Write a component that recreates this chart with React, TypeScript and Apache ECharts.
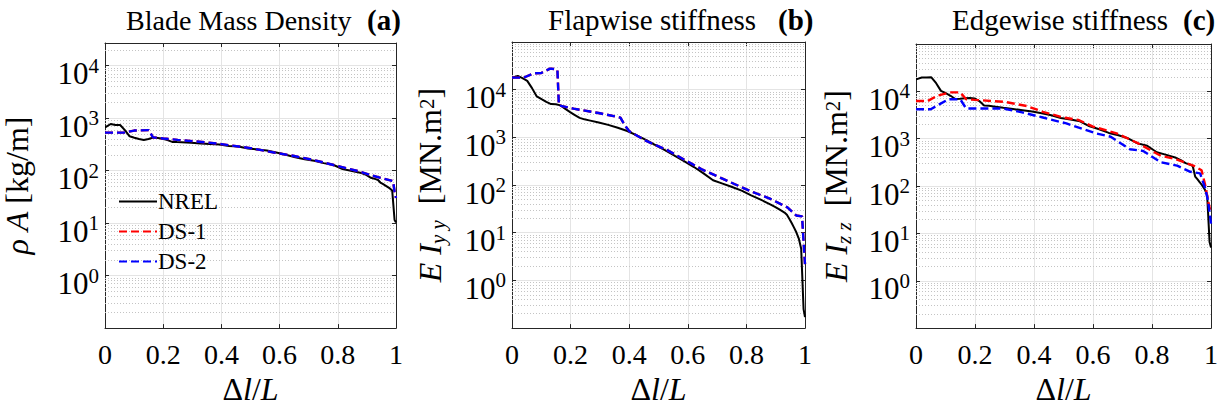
import React, { useEffect, useRef } from "react";
import * as echarts from "echarts";

const FONT = "'Liberation Serif', 'Times New Roman', serif";

// NREL reference blade (span fraction)
const X_NREL = [0, 0.00325, 0.01951, 0.03577, 0.05203, 0.06829, 0.08455, 0.10081, 0.11707, 0.13335, 0.14959, 0.16585, 0.18211, 0.19837, 0.21465, 0.23089, 0.24715, 0.26341, 0.29595, 0.32846, 0.36098, 0.3935, 0.42602, 0.45855, 0.49106, 0.52358, 0.5561, 0.58862, 0.62115, 0.65366, 0.68618, 0.7187, 0.75122, 0.78376, 0.81626, 0.84878, 0.8813, 0.89756, 0.91382, 0.93008, 0.93821, 0.94636, 0.95447, 0.9626, 0.97073, 0.97886, 0.98699, 0.99512, 1.0];
const NREL_MASS = [678.935, 678.935, 773.363, 740.55, 740.55, 592.496, 450.275, 424.054, 400.638, 382.062, 399.655, 426.321, 416.82, 406.186, 381.42, 352.822, 349.477, 346.538, 339.333, 330.004, 321.99, 313.82, 294.734, 287.12, 263.343, 253.207, 241.666, 220.638, 200.293, 179.404, 165.094, 154.411, 138.935, 129.555, 107.264, 98.776, 90.248, 83.001, 72.906, 68.772, 66.264, 59.34, 55.914, 52.484, 49.114, 45.818, 41.669, 11.453, 10.319];
const NREL_FLAP = [18110, 18110, 19425, 17455, 15287, 10782, 7230, 6309, 5528, 4981, 4936, 4691, 3948, 3386, 2933, 2568, 2388, 2271, 2050, 1828, 1589, 1362, 1102, 875.8, 681.3, 534.7, 408.9, 314.5, 238.6, 175.9, 126.0, 107.3, 90.9, 76.3, 61.0, 49.5, 39.4, 34.7, 30.4, 26.5, 23.8, 19.6, 16.0, 12.8, 10.1, 7.55, 4.6, 0.25, 0.17];
const NREL_EDGE = [18113.6, 18113.6, 19558.6, 19497.8, 19788.0, 14858.5, 10220.6, 9144.7, 8063.2, 6884.4, 7009.2, 7167.7, 7271.7, 7081.7, 6244.5, 5048.96, 4948.49, 4808.02, 4501.4, 4244.07, 3995.28, 3750.76, 3447.14, 3139.07, 2734.24, 2554.87, 2334.03, 1828.73, 1584.68, 1323.36, 1183.68, 1020.16, 797.81, 709.61, 518.19, 454.87, 395.12, 353.72, 304.73, 281.42, 261.71, 158.81, 137.88, 118.79, 101.63, 85.07, 64.26, 6.61, 5.01];

// DS-1 / DS-2, panel (a)
const DS_A_X = [0, 0.065, 0.1, 0.15, 0.165, 0.2, 0.25, 0.3, 0.35, 0.4, 0.5, 0.58, 0.65, 0.72, 0.8, 0.87, 0.92, 0.96, 0.99, 0.995, 1.0];
const DS1_A = [530, 530, 580, 590, 430, 410, 385, 365, 345, 320, 268, 222, 190, 158, 122, 98, 80, 70, 63, 40, 30];
const DS2_A = [530, 530, 580, 590, 430, 410, 385, 365, 345, 320, 268, 222, 190, 158, 122, 98, 80, 70, 63, 40, 30];

// panel (b)
const DS_B_X = [0, 0.04, 0.074, 0.1, 0.13, 0.146, 0.155, 0.16, 0.21, 0.3, 0.37, 0.385, 0.4, 0.46, 0.53, 0.6, 0.65, 0.72, 0.81, 0.88, 0.94, 0.97, 0.99, 0.995, 1.0];
const DS1_B = [17900, 17900, 22000, 22400, 27600, 27000, 26000, 4700, 4000, 3200, 2600, 1800, 1350, 830, 540, 310, 210, 135, 76, 52, 34, 23, 22, 6.6, 2.2];
const DS2_B = [17900, 17900, 22000, 22400, 27600, 27000, 26000, 4700, 4000, 3200, 2600, 1800, 1350, 830, 540, 310, 210, 135, 76, 52, 34, 23, 22, 6.6, 2.2];

// panel (c)
const DS1_C_X = [0, 0.04, 0.07, 0.115, 0.15, 0.17, 0.2, 0.3, 0.376, 0.43, 0.5, 0.55, 0.6, 0.68, 0.75, 0.83, 0.88, 0.94, 0.968, 0.98, 0.99, 1.0];
const DS1_C = [6250, 6250, 8000, 9500, 9500, 6800, 6600, 6000, 4900, 3700, 2800, 2500, 1800, 1300, 815, 435, 370, 270, 215, 107, 49, 26];
const DS2_C_X = [0, 0.05, 0.11, 0.15, 0.17, 0.295, 0.36, 0.43, 0.51, 0.61, 0.66, 0.725, 0.77, 0.83, 0.885, 0.93, 0.963, 0.98, 0.99, 1.0];
const DS2_C = [4200, 4200, 6800, 6800, 4350, 4350, 3600, 2800, 2100, 1300, 1100, 600, 550, 318, 270, 200, 185, 91, 49, 16];

const SERIES_NAMES = ["NREL", "DS-1", "DS-2"];
const TITLES = ["Blade Mass Density", "Flapwise stiffness", "Edgewise stiffness"];
const TAGS = ["(a)", "(b)", "(c)"];
const Y_MIN = 0.1;
const Y_MAX = [2.7e4, 1e5, 1e5];
const Y_NAMES = [
  "{i|ρ A}{n| [kg/m]}",
  "{i|E I}{sub|y y}{n|  [MN.m}{sup|2}{n|]}",
  "{i|E I}{sub|z z}{n|  [MN.m}{sup|2}{n|]}",
];

const zip = (xs: number[], ys: number[]) => xs.map((x, i) => [x, ys[i]]);

export default function App() {
  const ref = useRef<HTMLDivElement>(null);
  useEffect(() => {
    document.body.style.margin = "0";
    const chart = echarts.init(ref.current!, undefined, { renderer: "svg" });

    const grids = [
      { left: 103, top: 43, width: 293, height: 295 },
      { left: 512, top: 42, width: 293, height: 294 },
      { left: 916, top: 44, width: 295, height: 294 },
    ];

    const minorVals = (max: number) => {
      const out: number[] = [];
      for (let k = -1; k <= 4; k++) {
        for (let m = 2; m <= 9; m++) {
          const v = m * Math.pow(10, k);
          if (v < max) out.push(v);
        }
      }
      return out;
    };

    const axisColor = "#262626";
    const xAxes: any[] = [];
    const yAxes: any[] = [];
    for (let g = 0; g < 3; g++) {
      xAxes.push({
        gridIndex: g,
        type: "value",
        min: 0,
        max: 1,
        interval: 0.2,
        axisLine: { show: true, onZero: false, lineStyle: { color: axisColor, width: 1 } },
        axisTick: { show: true, inside: true, length: 4, lineStyle: { color: axisColor } },
        axisLabel: {
          fontFamily: FONT,
          fontSize: 28,
          color: "#000",
          margin: 12,
          formatter: (v: number) => String(+v.toFixed(1)),
        },
        splitLine: { show: true, lineStyle: { color: "#e4e4e4", width: 1 } },
        name: "{d|Δ}{i|l}{d|/}{i|L}",
        nameLocation: "middle",
        nameGap: 43,
        nameTextStyle: {
          rich: {
            d: { fontFamily: FONT, fontSize: 32, color: "#000" },
            i: { fontFamily: FONT, fontSize: 32, fontStyle: "italic", color: "#000" },
          },
        },
      });
      yAxes.push({
        gridIndex: g,
        type: "log",
        logBase: 10,
        min: Y_MIN,
        max: Y_MAX[g],
        axisLine: { show: true, onZero: false, lineStyle: { color: axisColor, width: 1 } },
        axisTick: { show: true, inside: true, length: 4, lineStyle: { color: axisColor } },
        axisLabel: {
          margin: 6,
          color: "#000",
          formatter: (v: number) => {
            const l = Math.log10(v);
            const e = Math.round(l);
            if (Math.abs(l - e) > 1e-6 || e < 0 || e > 4) return "";
            return "{b|10}{s|" + e + "}";
          },
          rich: {
            b: { fontFamily: FONT, fontSize: 31, lineHeight: 31, padding: [16, 0, 0, 0], color: "#000" },
            s: { fontFamily: FONT, fontSize: 21, lineHeight: 21, verticalAlign: "top", padding: [5, 0, 0, 0], color: "#000" },
          },
        },
        splitLine: { show: true, lineStyle: { color: "#e4e4e4", width: 1 } },
        name: Y_NAMES[g],
        nameLocation: "middle",
        nameGap: g === 0 ? 72 : g === 1 ? 64 : 62,
        nameTextStyle: {
          rich: {
            i: { fontFamily: FONT, fontSize: 32, lineHeight: 32, fontStyle: "italic", color: "#000", padding: g === 0 ? 0 : [4, 0, 8, 0] },
            n: { fontFamily: FONT, fontSize: 32, lineHeight: 32, color: "#000", padding: g === 0 ? 0 : [4, 0, 8, 0] },
            sub: { fontFamily: FONT, fontSize: 21, lineHeight: 21, fontStyle: "italic", verticalAlign: "bottom", color: "#000" },
            sup: { fontFamily: FONT, fontSize: 21, lineHeight: 21, verticalAlign: "top", color: "#000" },
          },
        },
      });
    }
    for (let g = 0; g < 3; g++) {
      xAxes.push({
        gridIndex: g,
        type: "value",
        position: "top",
        min: 0,
        max: 1,
        interval: 0.2,
        axisLine: { show: true, onZero: false, lineStyle: { color: axisColor, width: 1 } },
        axisTick: { show: true, inside: true, length: 4, lineStyle: { color: axisColor } },
        axisLabel: { show: false },
        splitLine: { show: false },
      });
      yAxes.push({
        gridIndex: g,
        type: "log",
        logBase: 10,
        position: "right",
        min: Y_MIN,
        max: Y_MAX[g],
        axisLine: { show: true, onZero: false, lineStyle: { color: axisColor, width: 1 } },
        axisTick: { show: true, inside: true, length: 4, lineStyle: { color: axisColor } },
        axisLabel: { show: false },
        splitLine: { show: false },
      });
    }

    const mk = (name: string, data: number[][], g: number, color: string, dashed: boolean, extra: any = {}) => ({
      type: "line",
      name,
      data,
      xAxisIndex: g,
      yAxisIndex: g,
      symbol: "none",
      showSymbol: false,
      silent: true,
      z: 3,
      lineStyle: { color, width: dashed ? 2.4 : 2, type: dashed ? [8, 4] : "solid" },
      itemStyle: { color },
      ...extra,
    });

    const minorLine = (g: number) => ({
      markLine: {
        silent: true,
        symbol: "none",
        z: 1,
        animation: false,
        label: { show: false },
        lineStyle: { color: "#c4c4c4", type: [1, 2], width: 1 },
        emphasis: { disabled: true },
        data: minorVals(Y_MAX[g]).map((v) => ({ yAxis: v })),
      },
    });

    const nrel = [NREL_MASS, NREL_FLAP, NREL_EDGE];
    const ds1 = [zip(DS_A_X, DS1_A), zip(DS_B_X, DS1_B), zip(DS1_C_X, DS1_C)];
    const ds2 = [zip(DS_A_X, DS2_A), zip(DS_B_X, DS2_B), zip(DS2_C_X, DS2_C)];
    const series: any[] = [];
    for (let g = 0; g < 3; g++) {
      series.push(mk(SERIES_NAMES[0], zip(X_NREL, nrel[g]), g, "#000000", false, minorLine(g)));
      series.push(mk(SERIES_NAMES[1], ds1[g], g, "#ff0000", true));
      series.push(mk(SERIES_NAMES[2], ds2[g], g, "#0000ff", true));
    }

    const titleX = [126, 548, 952];
    const titleSize = [28, 29, 29];
    const tagX = [367, 778, 1183];
    const graphics: any[] = [];
    for (let g = 0; g < 3; g++) {
      graphics.push({
        type: "text",
        x: titleX[g],
        y: 20,
        silent: true,
        style: { text: TITLES[g], fontFamily: FONT, fontSize: titleSize[g], fill: "#000", verticalAlign: "middle", align: "left" },
      });
      graphics.push({
        type: "text",
        x: tagX[g],
        y: 20,
        silent: true,
        style: { text: TAGS[g], fontFamily: FONT, fontSize: 29, fontWeight: "bold", fill: "#000", verticalAlign: "middle", align: "left" },
      });
    }

    chart.setOption({
      animation: false,
      backgroundColor: "#ffffff",
      grid: grids,
      xAxis: xAxes,
      yAxis: yAxes,
      legend: {
        data: SERIES_NAMES,
        orient: "vertical",
        left: 113,
        top: 185,
        itemWidth: 38,
        itemHeight: 1,
        itemGap: 7,
        selectedMode: false,
        textStyle: { fontFamily: FONT, fontSize: 23, lineHeight: 22, color: "#000", padding: [0, 0, 0, -4] },
      },
      graphic: graphics,
      series,
    });
    return () => chart.dispose();
  }, []);
  return <div ref={ref} style={{ width: 1225, height: 410 }} />;
}
